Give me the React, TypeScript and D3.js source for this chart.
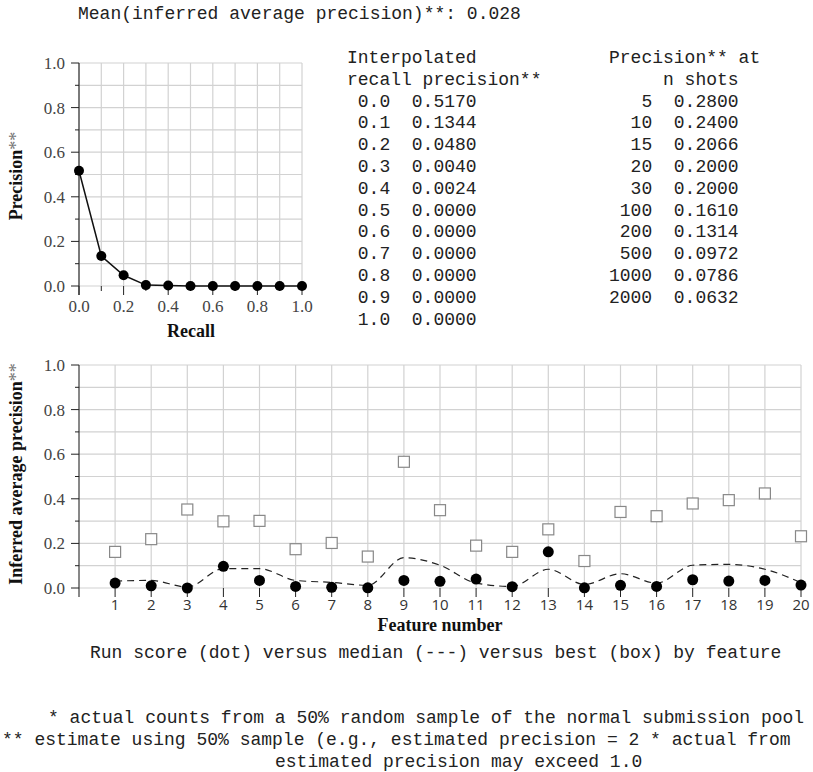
import React, { useEffect, useRef } from 'react';
import * as d3 from 'd3';

// top panel: interpolated recall-precision
const recallLevels = [0.0, 0.1, 0.2, 0.3, 0.4, 0.5, 0.6, 0.7, 0.8, 0.9, 1.0];
const interpPrecision = [0.5170, 0.1344, 0.0480, 0.0040, 0.0024, 0.0, 0.0, 0.0, 0.0, 0.0, 0.0];

// precision at n shots
const shotCounts = [5, 10, 15, 20, 30, 100, 200, 500, 1000, 2000];
const precisionAtN = [0.2800, 0.2400, 0.2066, 0.2000, 0.2000, 0.1610, 0.1314, 0.0972, 0.0786, 0.0632];

// bottom panel: per feature scores
const features = [1, 2, 3, 4, 5, 6, 7, 8, 9, 10, 11, 12, 13, 14, 15, 16, 17, 18, 19, 20];
const runScore = [0.022, 0.010, 0.000, 0.097, 0.034, 0.007, 0.003, 0.001, 0.034, 0.030,
  0.040, 0.006, 0.162, 0.001, 0.012, 0.007, 0.037, 0.031, 0.034, 0.013];
const medianScore = [0.031, 0.034, 0.004, 0.087, 0.087, 0.034, 0.025, 0.012, 0.136, 0.102,
  0.022, 0.007, 0.084, 0.016, 0.064, 0.022, 0.102, 0.106, 0.084, 0.024];
const bestScore = [0.162, 0.219, 0.352, 0.299, 0.301, 0.174, 0.202, 0.141, 0.566, 0.349,
  0.190, 0.162, 0.263, 0.121, 0.341, 0.322, 0.379, 0.394, 0.424, 0.232];

const meanInfAP = 0.028;

const footerLines = [
  '* actual counts from a 50% random sample of the normal submission pool',
  '** estimate using 50% sample (e.g., estimated precision = 2 * actual from',
  'estimated precision may exceed 1.0',
];

const MONO = '"Liberation Mono", "Courier New", monospace';
const SERIF = '"Liberation Serif", "Times New Roman", serif';
const CH = 10.8; // mono char width
const LINE = 21.8;

function drawFrame(g, x, y, xTickVals, xMajor, yTitle, yTitlePos) {
  const yTicks = d3.range(0, 11).map(i => i / 10);
  const x0 = x.range()[0];
  const y0 = y(0);

  // grid
  g.selectAll('.hgrid').data(yTicks).join('line')
    .attr('x1', x.range()[0]).attr('x2', x.range()[1])
    .attr('y1', d => y(d)).attr('y2', d => y(d))
    .attr('stroke', '#d2d2d2').attr('stroke-width', 1.2);
  g.selectAll('.vgrid').data(xTickVals).join('line')
    .attr('x1', d => x(d)).attr('x2', d => x(d))
    .attr('y1', y(1)).attr('y2', y0)
    .attr('stroke', '#d2d2d2').attr('stroke-width', 1.2);

  // y axis
  g.append('line').attr('x1', x0).attr('x2', x0).attr('y1', y(1)).attr('y2', y0 + 9)
    .attr('stroke', '#111');
  yTicks.forEach((v, i) => {
    const major = i % 2 === 0;
    g.append('line').attr('x1', x0 - (major ? 8 : 4)).attr('x2', x0)
      .attr('y1', y(v)).attr('y2', y(v)).attr('stroke', '#222');
    if (major) {
      g.append('text').attr('x', x0 - 14).attr('y', y(v)).attr('dy', '0.35em')
        .attr('text-anchor', 'end').attr('font-family', SERIF).attr('font-size', 17)
        .attr('fill', '#444').text(v.toFixed(1));
    }
  });

  // x ticks
  xTickVals.forEach((v, i) => {
    const major = xMajor(v, i);
    g.append('line').attr('x1', x(v)).attr('x2', x(v))
      .attr('y1', y0).attr('y2', y0 + (major ? 9 : 5)).attr('stroke', '#222');
  });

  g.append('text')
    .attr('transform', `translate(22,${yTitlePos}) rotate(-90)`)
    .attr('text-anchor', 'middle').attr('font-family', SERIF).attr('font-size', 18)
    .attr('font-weight', 'bold').attr('fill', '#111')
    .call(t => {
      t.append('tspan').text(yTitle);
      t.append('tspan').attr('font-weight', 'normal').attr('fill', '#777').text('**');
    });
}

function App() {
  const ref = useRef(null);

  useEffect(() => {
    const svg = d3.select(ref.current);
    svg.selectAll('*').remove();

    svg.append('rect').attr('width', 813).attr('height', 772).attr('fill', '#fff');

    svg.append('text').attr('x', 78).attr('y', 19)
      .attr('font-family', MONO).attr('font-size', 18).attr('fill', '#222')
      .style('white-space', 'pre')
      .text(`Mean(inferred average precision)**: ${meanInfAP.toFixed(3)}`);

    // ---------- top recall-precision chart ----------
    const xr = d3.scaleLinear().domain([0, 1]).range([79, 302]);
    const yr = d3.scaleLinear().domain([0, 1]).range([286, 63]);
    const top = svg.append('g');
    drawFrame(top, xr, yr, recallLevels, (v, i) => i % 2 === 0, 'Precision', 176);

    recallLevels.forEach((v, i) => {
      if (i % 2 === 0) {
        top.append('text').attr('x', xr(v)).attr('y', 312).attr('text-anchor', 'middle')
          .attr('font-family', SERIF).attr('font-size', 17).attr('fill', '#444').text(v.toFixed(1));
      }
    });
    top.append('text').attr('x', 191).attr('y', 337).attr('text-anchor', 'middle')
      .attr('font-family', SERIF).attr('font-size', 18).attr('font-weight', 'bold')
      .attr('fill', '#111').text('Recall');

    const prLine = d3.line().x((d, i) => xr(recallLevels[i])).y(d => yr(d));
    top.append('path').datum(interpPrecision).attr('d', prLine)
      .attr('fill', 'none').attr('stroke', '#111').attr('stroke-width', 1.5);
    top.selectAll('.prdot').data(interpPrecision).join('circle')
      .attr('cx', (d, i) => xr(recallLevels[i])).attr('cy', d => yr(d)).attr('r', 5)
      .attr('fill', '#000');

    // ---------- tables ----------
    const tbl = svg.append('g').attr('font-family', MONO).attr('font-size', 18).attr('fill', '#222')
      .style('white-space', 'pre');
    const base = i => 63 + i * LINE;
    tbl.append('text').attr('x', 347).attr('y', base(0)).text('Interpolated');
    tbl.append('text').attr('x', 347).attr('y', base(1)).text('recall precision**');
    recallLevels.forEach((r, i) => {
      tbl.append('text').attr('x', 347 + CH).attr('y', base(i + 2)).text(r.toFixed(1));
      tbl.append('text').attr('x', 347 + 6 * CH).attr('y', base(i + 2)).text(interpPrecision[i].toFixed(4));
    });
    const t2 = 609;
    tbl.append('text').attr('x', t2).attr('y', base(0)).text('Precision** at');
    tbl.append('text').attr('x', t2 + 5 * CH).attr('y', base(1)).text('n shots');
    shotCounts.forEach((n, i) => {
      tbl.append('text').attr('x', t2 + 4 * CH).attr('y', base(i + 2)).attr('text-anchor', 'end').text(n);
      tbl.append('text').attr('x', t2 + 6 * CH).attr('y', base(i + 2)).text(precisionAtN[i].toFixed(4));
    });

    // ---------- bottom per-feature chart ----------
    const xf = d3.scaleLinear().domain([0, 20]).range([79, 801]);
    const yf = d3.scaleLinear().domain([0, 1]).range([588, 365]);
    const bot = svg.append('g');
    drawFrame(bot, xf, yf, features, () => true, 'Inferred average precision', 474);

    features.forEach(f => {
      bot.append('text').attr('x', xf(f)).attr('y', 610).attr('text-anchor', 'middle')
        .attr('font-family', '"Open Sans", sans-serif').attr('font-size', 15).attr('fill', '#333')
        .text(f);
    });
    bot.append('text').attr('x', 440).attr('y', 631).attr('text-anchor', 'middle')
      .attr('font-family', SERIF).attr('font-size', 18).attr('font-weight', 'bold')
      .attr('fill', '#111').text('Feature number');

    bot.selectAll('.best').data(bestScore).join('rect')
      .attr('x', (d, i) => xf(features[i]) - 5.5).attr('y', d => yf(d) - 5.5)
      .attr('width', 11).attr('height', 11)
      .attr('fill', '#fff').attr('stroke', '#888').attr('stroke-width', 1.2);

    const medLine = d3.line().x((d, i) => xf(features[i])).y(d => yf(d)).curve(d3.curveMonotoneX);
    bot.append('path').datum(medianScore).attr('d', medLine)
      .attr('fill', 'none').attr('stroke', '#222').attr('stroke-width', 1.2)
      .attr('stroke-dasharray', '7,5');

    bot.selectAll('.run').data(runScore).join('circle')
      .attr('cx', (d, i) => xf(features[i])).attr('cy', d => yf(d)).attr('r', 5.5)
      .attr('fill', '#000');

    // ---------- captions ----------
    const cap = svg.append('g').attr('font-family', MONO).attr('font-size', 18).attr('fill', '#222')
      .style('white-space', 'pre');
    cap.append('text').attr('x', 90).attr('y', 658)
      .text('Run score (dot) versus median (---) versus best (box) by feature');
    const capX = [48, 2, 275];
    footerLines.forEach((s, i) => {
      cap.append('text').attr('x', capX[i]).attr('y', 723 + i * 22).text(s);
    });
  }, []);

  return (
    <svg ref={ref} width={813} height={772}
      style={{ position: 'absolute', left: 0, top: 0, display: 'block' }} />
  );
}

export default App;
